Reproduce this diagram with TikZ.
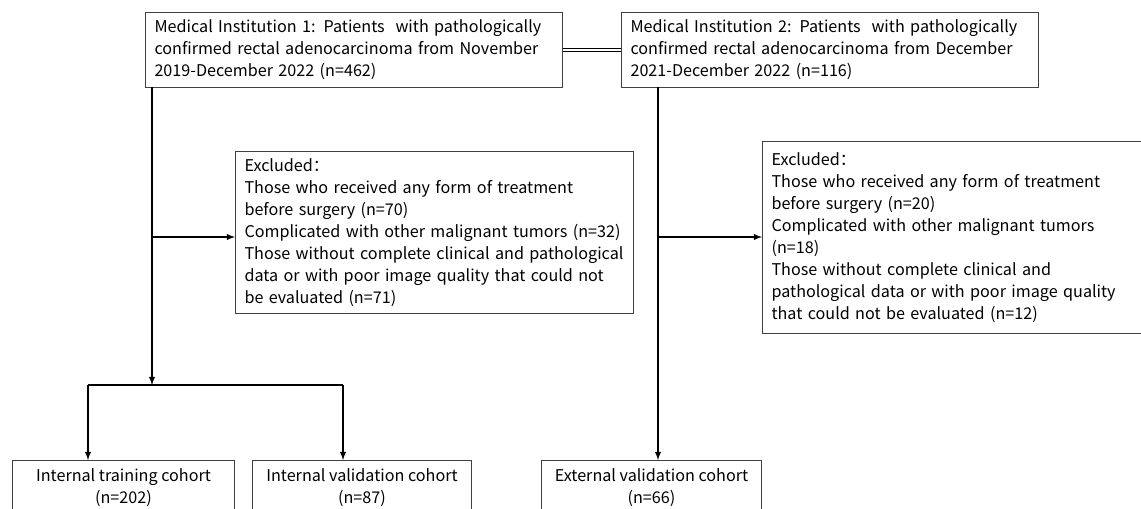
\documentclass[tikz,border=0pt]{standalone}
\usepackage{fontspec}
\setmainfont{Noto Sans CJK SC}
\usetikzlibrary{positioning}
\definecolor{edge}{RGB}{64,64,64}
\tikzset{
  box/.style={draw=edge, line width=0.6pt, anchor=north west, align=left,
    inner xsep=0.18cm, inner ysep=0pt},
  cohort/.style={draw=edge, line width=0.6pt, anchor=north west, align=center,
    inner sep=0pt},
  flow/.style={->, line width=0.6pt}
}
\begin{document}
\begin{tikzpicture}[>=latex, x=0.02cm, y=-0.02cm, font=\fontsize{9.2}{12.5}\selectfont]
        \useasboundingbox (0,0) rectangle (1141,508);
        \clip (0,0) rectangle (1141,508);

        % institutions
        \node[box, text width=7.98cm, minimum height=1.5cm] (inst1) at (145,12)
          {Medical Institution 1: Patients\ \ with pathologically\\confirmed rectal adenocarcinoma from November\\2019-December 2022 (n=462)};
        \node[box, text width=7.98cm, minimum height=1.5cm] (inst2) at (621,12)
          {Medical Institution 2: Patients\ \ with pathologically\\confirmed rectal adenocarcinoma from December\\2021-December 2022 (n=116)};
        \draw[double, double distance=1.2pt, line width=0.5pt] (inst1.east) -- (inst2.west);

        % exclusions
        \node[box, text width=7.6cm, minimum height=3.24cm] (excl1) at (235,151)
          {Excluded：\\Those who received any form of treatment\\before surgery (n=70)\\Complicated with other malignant tumors (n=32)\\Those without complete clinical and pathological\\data or with poor image quality that could not\\be evaluated (n=71)};
        \node[box, text width=8.1cm, minimum height=3.84cm] (excl2) at (762,141)
          {Excluded：\\Those who received any form of treatment\\before surgery (n=20)\\Complicated with other malignant tumors\\(n=18)\\Those without complete clinical and\\pathological data or with poor image quality\\that could not be evaluated (n=12)};

        % cohorts
        \node[cohort, minimum width=4.44cm, minimum height=1.1cm] (train) at (12,460)
          {Internal training cohort\\(n=202)};
        \node[cohort, minimum width=4.38cm, minimum height=1.1cm] (valid) at (252,460)
          {Internal validation cohort\\(n=87)};
        \node[cohort, minimum width=4.4cm, minimum height=1.1cm] (ext) at (541,460)
          {External validation cohort\\(n=66)};

        % connectors
        \coordinate (top1) at (152,87);
        \coordinate (mid1) at (152,237);
        \coordinate (split) at (152,385);
        \coordinate (left) at (88,385);
        \coordinate (right) at (343,385);
        \coordinate (top2) at (658,87);
        \coordinate (mid2) at (658,237);

        \draw[flow] (top1) -- (split);
        \draw[flow] (mid1) -- (mid1 -| excl1.west);
        \draw[line width=0.6pt] (left) -- (right);
        \draw[flow] (left) -- (left |- train.north);
        \draw[flow] (right) -- (right |- valid.north);

        \draw[flow] (top2) -- (top2 |- ext.north);
        \draw[flow] (mid2) -- (mid2 -| excl2.west);
\end{tikzpicture}
\end{document}
